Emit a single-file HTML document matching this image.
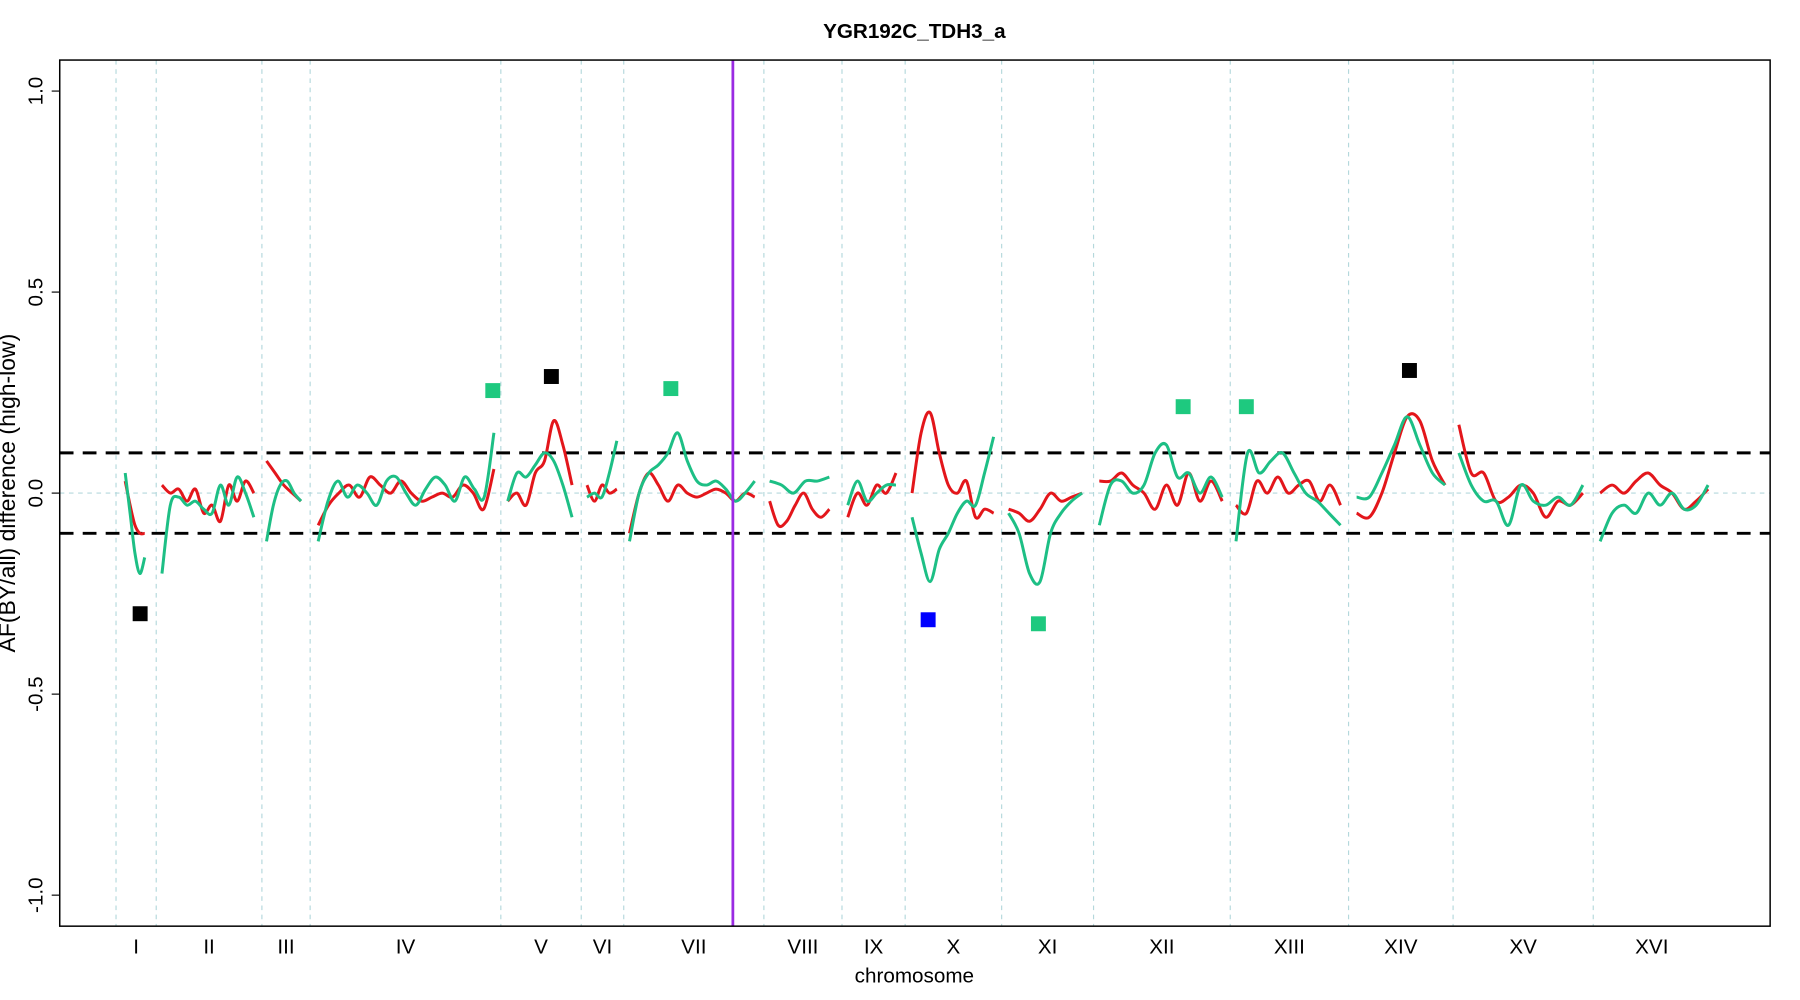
<!DOCTYPE html>
<html><head><meta charset="utf-8"><style>
html,body{margin:0;padding:0;background:#fff;width:1800px;height:1000px;overflow:hidden}
svg{display:block}
text{font-family:"Liberation Sans",Arial,sans-serif}
</style></head><body>
<svg id="chart" width="1800" height="1000" viewBox="0 0 1567 870" xmlns="http://www.w3.org/2000/svg">
<text x="796" y="33" text-anchor="middle" font-size="18" font-weight="bold">YGR192C_TDH3_a</text>
<text x="796" y="855" text-anchor="middle" font-size="18">chromosome</text>
<text transform="translate(13,429) rotate(-90)" text-anchor="middle" font-size="20">AF(BY/all) difference (high-low)</text>
<g id="grid"></g><g id="marks"></g><g id="axes"></g>
<rect x="52" y="52" width="1489" height="754" fill="none" stroke="#000" stroke-width="1.3"/>
</svg>
<script>
const chromNames=["I","II","III","IV","V","VI","VII","VIII","IX","X","XI","XII","XIII","XIV","XV","XVI"];
const chromStarts=[0,35,127,169,335,405,442,564,632,687,771,851,970,1073,1164,1286];
const chromEnds=[35,127,169,335,405,442,564,632,687,771,851,970,1073,1164,1286,1388];
const curveStart=[8,5,4,7,6,5,5,5,5,6,6,5,5,7,5,6];
const curveEnd=[25,120,161,329,397,436,556,621,679,764,841,963,1066,1157,1277,1386];
const redSeries=[
[0.03,-0.03,-0.08,-0.1,-0.1],
[0.02,0.0,0.01,-0.02,0.01,-0.05,-0.03,-0.07,0.02,-0.02,0.03,0.0],
[0.08,0.05,0.02,0.0,-0.02],
[-0.08,-0.03,0.0,0.02,-0.01,0.04,0.02,0.0,0.03,0.0,-0.02,-0.01,0.0,-0.01,0.02,0.0,-0.04,0.06],
[-0.02,0.0,-0.03,0.05,0.08,0.18,0.12,0.02],
[0.02,-0.02,0.02,0.0,0.01],
[-0.1,0.0,0.05,0.02,-0.02,0.02,0.0,-0.01,0.0,0.01,0.0,-0.02,0.0,-0.01],
[-0.02,-0.08,-0.07,-0.03,0.0,-0.04,-0.06,-0.04],
[-0.06,0.0,-0.03,0.02,0.0,0.05],
[0.0,0.15,0.2,0.1,0.02,0.0,0.03,-0.06,-0.04,-0.05],
[-0.04,-0.05,-0.07,-0.04,0.0,-0.02,-0.01,0.0],
[0.03,0.03,0.05,0.02,0.0,-0.04,0.02,-0.03,0.05,-0.02,0.03,-0.02],
[-0.03,-0.05,0.03,0.0,0.04,0.0,0.02,0.03,-0.02,0.02,-0.03],
[-0.05,-0.06,0.0,0.1,0.19,0.18,0.08,0.02],
[0.17,0.05,0.05,-0.02,-0.01,0.02,0.0,-0.06,-0.02,-0.03,0.0],
[0.0,0.02,0.0,0.03,0.05,0.02,0.0,-0.04,-0.02,0.01]
];
const greenSeries=[
[0.05,-0.05,-0.15,-0.2,-0.16],
[-0.2,-0.03,-0.01,-0.03,-0.02,-0.04,-0.05,0.02,-0.03,0.04,0.0,-0.06],
[-0.12,-0.03,0.02,0.03,0.0,-0.02],
[-0.12,-0.02,0.03,-0.01,0.02,0.0,-0.03,0.03,0.04,0.0,-0.03,0.01,0.04,0.02,-0.02,0.04,0.01,-0.01,0.15],
[-0.02,0.05,0.04,0.07,0.1,0.08,0.02,-0.06],
[-0.01,0.0,-0.01,0.05,0.13],
[-0.12,0.0,0.05,0.07,0.1,0.15,0.08,0.03,0.02,0.03,0.01,-0.02,0.0,0.03],
[0.03,0.02,0.0,0.03,0.03,0.04],
[-0.03,0.03,-0.02,0.0,0.02,0.02],
[-0.06,-0.15,-0.22,-0.14,-0.1,-0.05,-0.02,-0.03,0.05,0.14],
[-0.05,-0.1,-0.2,-0.22,-0.1,-0.05,-0.02,0.0],
[-0.08,0.02,0.03,0.0,0.02,0.1,0.12,0.04,0.05,0.0,0.04,-0.01],
[-0.12,0.1,0.05,0.08,0.1,0.05,0.0,-0.02,-0.05,-0.08],
[-0.01,-0.01,0.05,0.12,0.19,0.12,0.05,0.02],
[0.1,0.02,-0.02,-0.02,-0.08,0.02,-0.02,-0.03,-0.01,-0.03,0.02],
[-0.12,-0.05,-0.03,-0.05,0.0,-0.03,0.0,-0.04,-0.03,0.02]
];
const peakPos=[21,328,379,483,707,803,929,984,1126];
const peakVals=[-0.30,0.255,0.29,0.26,-0.315,-0.325,0.215,0.215,0.305];
const peakColors=["#000","#1ec97f","#000","#1ec97f","#0000ff","#1ec97f","#1ec97f","#1ec97f","#000"];
const yTicks=[-1.0,-0.5,0.0,0.5,1.0];
const yTickLabels=["-1.0","-0.5","0.0","0.5","1.0"];
const thresholds=[0.1,-0.1];
const markerPos=537;

const NS="http://www.w3.org/2000/svg";
const xs=g=>101+g;
const ys=v=>429-350*v;
function mk(tag,attrs,parent){const e=document.createElementNS(NS,tag);for(const k in attrs)e.setAttribute(k,attrs[k]);parent.appendChild(e);return e;}
const grid=document.getElementById('grid'),marks=document.getElementById('marks'),axes=document.getElementById('axes');

chromStarts.forEach((s,i)=>{
  const l=mk('line',{x1:xs(s),x2:xs(s),y1:52,y2:806,stroke:'#b4d8dc','stroke-width':1,'stroke-dasharray':'4,4'},grid);
  
  
  const t=mk('text',{x:xs((s+chromEnds[i])/2),y:830,'text-anchor':'middle','font-size':18},axes);
  t.textContent=chromNames[i];
  
  
});
const zl=mk('line',{x1:52,x2:1541,y1:ys(0),y2:ys(0),stroke:'#b4d8dc','stroke-width':1,'stroke-dasharray':'4,4'},grid);


thresholds.forEach(v=>{
  const l=mk('line',{x1:52,x2:1541,y1:ys(v),y2:ys(v),stroke:'#000','stroke-width':2.6,'stroke-dasharray':'12,8'},grid);
  
  
});
yTicks.forEach((v,i)=>{
  const l=mk('line',{x1:45,x2:52,y1:ys(v),y2:ys(v),stroke:'#000','stroke-width':1},axes);
  
  
  const t=mk('text',{transform:`translate(37,${ys(v)}) rotate(-90)`,'text-anchor':'middle','font-size':18},axes);
  t.textContent=yTickLabels[i];
  
  
});

function smoothPath(pts){
  let d=`M${pts[0][0]},${pts[0][1]}`;
  for(let i=0;i<pts.length-1;i++){
    const p0=pts[i-1]||pts[i],p1=pts[i],p2=pts[i+1],p3=pts[i+2]||p2;
    const c1=[p1[0]+(p2[0]-p0[0])/6,p1[1]+(p2[1]-p0[1])/6];
    const c2=[p2[0]-(p3[0]-p1[0])/6,p2[1]-(p3[1]-p1[1])/6];
    d+=` C${c1[0]},${c1[1]} ${c2[0]},${c2[1]} ${p2[0]},${p2[1]}`;
  }
  return d;
}
function drawSeries(series,color,name){
  series.forEach((vals,i)=>{
    const a=chromStarts[i]+curveStart[i],b=curveEnd[i],n=vals.length;
    const pts=vals.map((v,j)=>[xs(a+(b-a)*j/(n-1)),ys(v)]);
    const p=mk('path',{d:smoothPath(pts),fill:'none',stroke:color,'stroke-width':2.6,'stroke-linejoin':'round'},marks);
    
    
  });
}
drawSeries(redSeries,'#e3161b','red-series-curve');
drawSeries(greenSeries,'#1dbf85','green-series-curve');

const mv=mk('line',{x1:xs(markerPos),x2:xs(markerPos),y1:52,y2:806,stroke:'#9a2be2','stroke-width':2.4},marks);



peakPos.forEach((g,i)=>{
  const r=mk('rect',{x:xs(g)-6.5,y:ys(peakVals[i])-6.5,width:13,height:13,fill:peakColors[i]},marks);
  
  
});
</script>
</body></html>
